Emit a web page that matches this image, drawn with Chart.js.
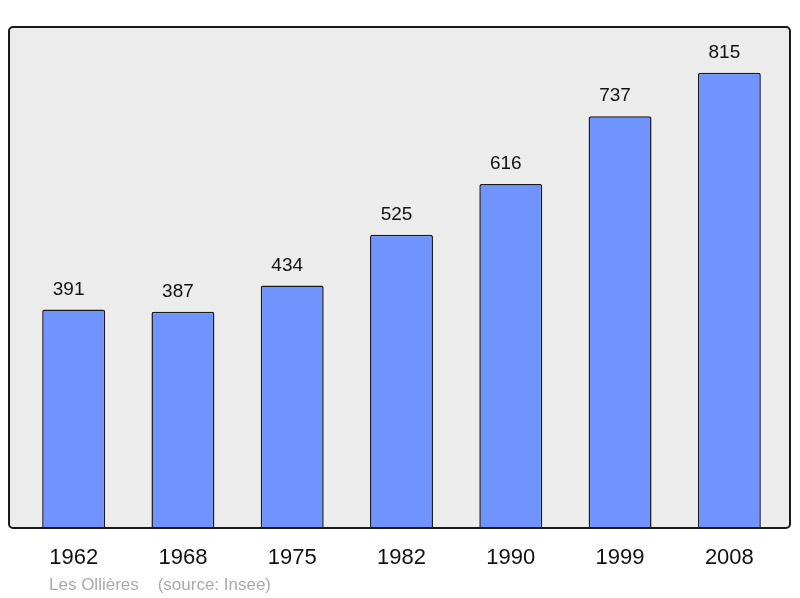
<!DOCTYPE html>
<html>
<head>
<meta charset="utf-8">
<script src="https://cdn.jsdelivr.net/npm/chart.js@4"></script>
<style>
html,body{margin:0;padding:0;background:#fff;}
#wrap{width:800px;height:598px;position:relative;}
</style>
</head>
<body>
<div id="wrap"><canvas id="c" width="800" height="598"></canvas></div>
<script>
const years = ["1962","1968","1975","1982","1990","1999","2008"];
const population = [391,387,434,525,616,737,815];
const caption = "Les Ollières    (source: Insee)";

const framePlugin = {
  id: 'frame',
  beforeDraw(chart) {
    const {ctx, chartArea: a} = chart;
    const x0 = a.left - 10, x1 = a.right + 6, y0 = a.top, y1 = a.bottom;
    ctx.save();
    ctx.beginPath();
    ctx.roundRect(x0, y0, x1 - x0, y1 - y0, 4);
    ctx.fillStyle = '#ececec';
    ctx.fill();
    ctx.restore();
  },
  afterDatasetsDraw(chart) {
    const {ctx, chartArea: a} = chart;
    const x0 = a.left - 10, x1 = a.right + 6, y0 = a.top, y1 = a.bottom;
    ctx.save();
    ctx.beginPath();
    ctx.roundRect(x0, y0, x1 - x0, y1 - y0, 4);
    ctx.lineWidth = 2;
    ctx.strokeStyle = '#1a1a1a';
    ctx.stroke();
    // value labels
    const meta = chart.getDatasetMeta(0);
    ctx.fillStyle = '#111';
    ctx.font = '19px "Liberation Sans", Arial, sans-serif';
    ctx.textAlign = 'center';
    ctx.textBaseline = 'alphabetic';
    meta.data.forEach((bar, i) => {
      ctx.fillText(String(population[i]), bar.x - 5, bar.y - 15);
    });
    // category labels
    const xs = chart.scales.x;
    ctx.font = '22px "Liberation Sans", Arial, sans-serif';
    ctx.fillStyle = '#111';
    years.forEach((y, i) => {
      ctx.fillText(y, xs.getPixelForValue(i), a.bottom + 36);
    });
    // caption
    ctx.font = '17px "Liberation Sans", Arial, sans-serif';
    ctx.fillStyle = '#aaaaaa';
    ctx.textAlign = 'left';
    ctx.fillText(caption, 49, a.bottom + 62);
    ctx.restore();
  }
};

new Chart(document.getElementById('c'), {
  type: 'bar',
  data: {
    labels: years,
    datasets: [{
      data: population,
      backgroundColor: '#7094ff',
      borderColor: '#1a1a1a',
      borderWidth: 1.5,
      borderRadius: 2,
      borderSkipped: 'bottom',
      categoryPercentage: 1,
      barPercentage: 0.576
    }]
  },
  options: {
    responsive: false,
    animation: false,
    devicePixelRatio: 1,
    layout: { padding: { left: 19, right: 16, top: 27, bottom: 70 } },
    plugins: { legend: { display: false }, tooltip: { enabled: false } },
    scales: {
      x: { display: false, offset: true },
      y: { display: false, min: 0, max: 897 }
    }
  },
  plugins: [framePlugin]
});
</script>
</body>
</html>
